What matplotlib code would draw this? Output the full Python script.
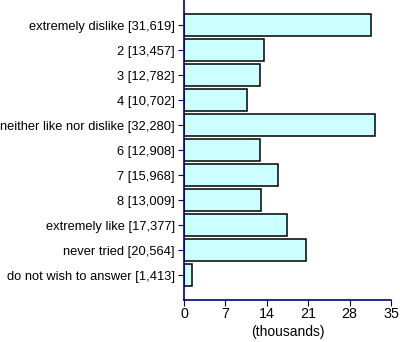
import matplotlib.pyplot as plt

plt.rcParams['font.family'] = ['Liberation Sans', 'DejaVu Sans']

categories = ["extremely dislike", "2", "3", "4", "neither like nor dislike",
              "6", "7", "8", "extremely like", "never tried", "do not wish to answer"]
counts = [31619, 13457, 12782, 10702, 32280, 12908, 15968, 13009, 17377, 20564, 1413]
xticks = [0, 7, 14, 21, 28, 35]

labels = [f"{c} [{n:,}]" for c, n in zip(categories, counts)]
values = [n / 1000 for n in counts]
pos = list(range(len(categories)))

fig = plt.figure(figsize=(4, 3.42), dpi=100)
ax = fig.add_axes([0.46, 0.1228, 0.5175, 0.8772])

ax.barh(pos, values, height=0.86, color="#ccffff", edgecolor="black", linewidth=1.1)

ax.set_xlim(0, 35)
ax.set_ylim(11, -1)
ax.set_xticks(xticks)
ax.set_yticks(pos)
ax.set_yticklabels(labels, fontsize=9.3)
ax.tick_params(axis="x", labelsize=10.3, length=4, color="#000080", pad=1)
ax.tick_params(axis="y", length=4, color="#000080", pad=2.5)
ax.set_xlabel("(thousands)", fontsize=10, labelpad=3)

for side in ["top", "right"]:
    ax.spines[side].set_visible(False)
for side in ["left", "bottom"]:
    ax.spines[side].set_color("#000080")
    ax.spines[side].set_linewidth(1.2)

fig.savefig("out.png", dpi=100)
